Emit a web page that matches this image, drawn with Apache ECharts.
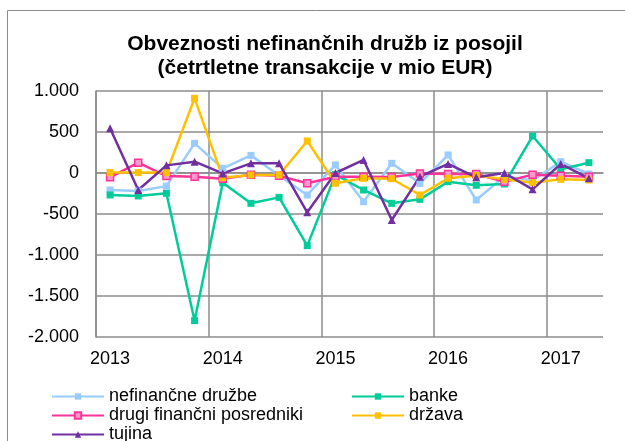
<!DOCTYPE html>
<html>
<head>
<meta charset="utf-8">
<script src="https://cdn.jsdelivr.net/npm/echarts@6/dist/echarts.min.js"></script>
<style>
  html, body { margin: 0; padding: 0; background: #fff; }
  #chart { width: 625px; height: 441px; }
</style>
</head>
<body>
<div id="chart"></div>
<script>
// četrtletja 2013 Q1 - 2017 Q2
const quarters = ['2013 Q1', '2013 Q2', '2013 Q3', '2013 Q4', '2014 Q1', '2014 Q2', '2014 Q3', '2014 Q4',
  '2015 Q1', '2015 Q2', '2015 Q3', '2015 Q4', '2016 Q1', '2016 Q2', '2016 Q3', '2016 Q4', '2017 Q1', '2017 Q2']

const nefinancne = [-207, -220, -160, 362, 57, 215, -30, -268, 98, -350, 118, -126, 220, -329, -40, -90, 138, -12]
const banke = [-268, -280, -248, -1801, -118, -370, -297, -886, -20, -207, -370, -321, -106, -150, -134, 451, 45, 126]
const drugi = [-53, 126, -37, -45, -69, -20, -35, -126, -45, -45, -50, -5, -12, -12, -106, -20, -35, -45]
const drzava = [5, 5, 5, 911, -57, -24, -24, 390, -126, -65, -70, -268, -65, -30, -77, -118, -77, -85]
const tujina = [545, -207, 93, 138, -5, 118, 118, -479, 0, 159, -573, -45, 110, -53, 0, -199, 110, -65]

const seriesDefs = [
  { name: 'nefinančne družbe', data: nefinancne, color: '#99CCFF', symbol: 'rect' },
  { name: 'banke', data: banke, color: '#00CC99', symbol: 'rect' },
  { name: 'drugi finančni posredniki', data: drugi, color: '#FF3399', symbol: 'rect', fill: '#FF99CC' },
  { name: 'država', data: drzava, color: '#FFC000', symbol: 'rect' },
  { name: 'tujina', data: tujina, color: '#7030A0', symbol: 'triangle' }
]

const font = 'Arial, "Liberation Sans", sans-serif'
const gridColor = '#8c8c8c'

const chart = echarts.init(document.getElementById('chart'))

// legenda v dveh stolpcih (kot v Excelu)
const legendBase = {
  orient: 'vertical',
  top: 387,
  height: 120,
  itemWidth: 52,
  itemHeight: 8,
  itemGap: 0,
  padding: 0,
  textStyle: { fontFamily: font, fontSize: 18, color: '#000', lineHeight: 19 }
}

chart.setOption({
  animation: false,
  color: seriesDefs.map(s => s.color),
  title: {
    text: 'Obveznosti nefinančnih družb iz posojil\n(četrtletne transakcije v mio EUR)',
    left: 320,
    top: 27,
    textAlign: 'center',
    textStyle: { fontFamily: font, fontSize: 21, fontWeight: 'bold', color: '#000', lineHeight: 24 }
  },
  graphic: [{
    type: 'rect',
    shape: { x: 7.5, y: 10.5, width: 700, height: 500 },
    style: { fill: 'none', stroke: gridColor, lineWidth: 1 },
    silent: true
  }],
  legend: [
    Object.assign({}, legendBase, { left: 51, data: ['nefinančne družbe', 'drugi finančni posredniki', 'tujina'] }),
    Object.assign({}, legendBase, { left: 351, data: ['banke', 'država'] })
  ],
  grid: { left: 96, right: 22, top: 91, bottom: 104 },
  xAxis: [{
    type: 'category',
    data: quarters,
    boundaryGap: true,
    axisLine: { lineStyle: { color: gridColor, width: 1.5 } },
    axisTick: { show: false },
    axisLabel: {
      interval: 3,
      margin: 13,
      fontFamily: font,
      fontSize: 18,
      color: '#000',
      formatter: v => v.slice(0, 4)
    },
    splitLine: { show: false }
  }, {
    // pomožna os samo za navpične črte med leti (brez črte na desnem robu)
    type: 'value',
    min: 0,
    max: quarters.length,
    interval: 4,
    position: 'bottom',
    axisLine: { show: false },
    axisTick: { show: false },
    axisLabel: { show: false },
    splitLine: { show: true, showMaxLine: false, lineStyle: { color: gridColor, width: 1.5 } }
  }],
  yAxis: {
    type: 'value',
    min: -2000,
    max: 1000,
    interval: 500,
    axisLine: { show: true, lineStyle: { color: gridColor, width: 1.5 } },
    axisTick: { show: false },
    axisLabel: {
      margin: 17,
      fontFamily: font,
      fontSize: 18,
      color: '#000',
      formatter: v => (v < 0 ? '-' : '') + Math.abs(v).toLocaleString('de-DE')
    },
    splitLine: { lineStyle: { color: gridColor, width: 1.5 } }
  },
  series: seriesDefs.map(s => ({
    name: s.name,
    type: 'line',
    data: s.data,
    symbol: s.symbol,
    symbolSize: s.symbol === 'triangle' ? 8 : 7,
    showAllSymbol: true,
    lineStyle: { color: s.color, width: 2.5 },
    itemStyle: s.fill
      ? { color: s.fill, borderColor: s.color, borderWidth: 1.5 }
      : { color: s.color, borderWidth: 0 }
  }))
})
</script>
</body>
</html>
